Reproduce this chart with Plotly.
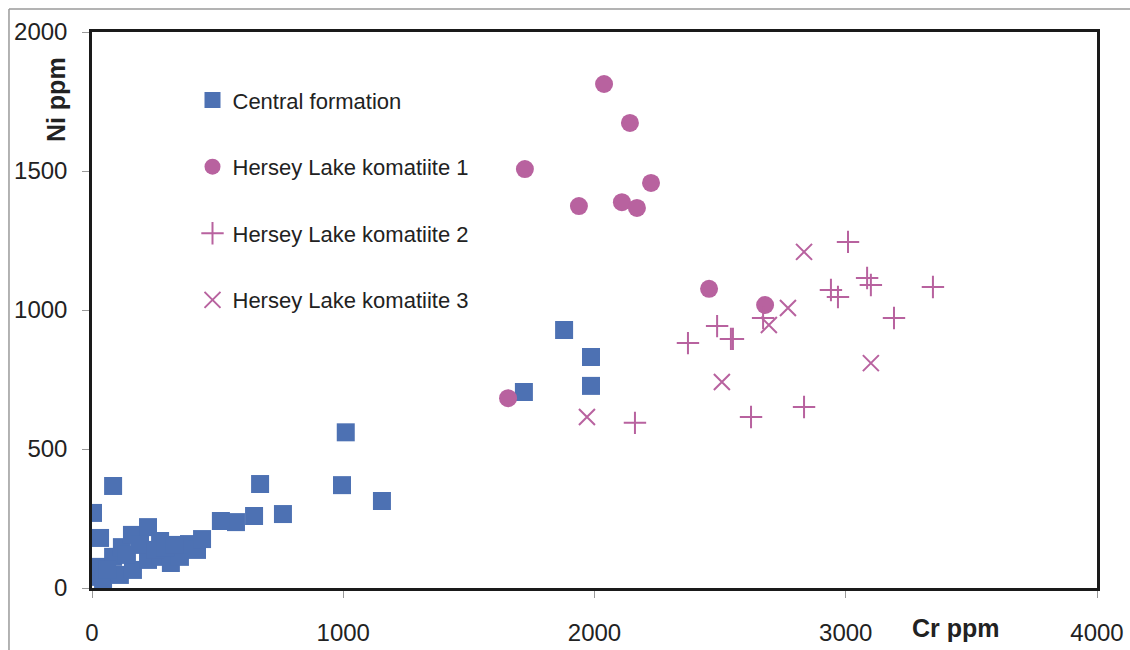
import plotly.graph_objects as go

# Central formation (squares)
central_cr = [4, 32, 84, 669, 760, 645, 573, 513, 1010, 995, 1154, 1879, 1986, 1986, 1719,
              8, 32, 44, 84, 111, 119, 159, 163, 223, 223, 271, 271, 314, 350, 386, 418, 438,
              60, 139, 191, 251, 291, 330]
central_ni = [270, 180, 367, 374, 266, 259, 237, 241, 560, 370, 313, 928, 831, 727, 705,
              40, 76, 29, 112, 47, 147, 191, 65, 219, 101, 169, 112, 90, 112, 158, 137, 176,
              65, 119, 155, 137, 144, 155]

# Hersey Lake komatiite 1 (circles)
hl1_cr = [2038, 2141, 1723, 1938, 2109, 2169, 2225, 2456, 2679, 1656]
hl1_ni = [1813, 1673, 1507, 1374, 1388, 1367, 1457, 1076, 1018, 683]

# Hersey Lake komatiite 2 (plus)
hl2_cr = [2161, 2372, 2488, 2543, 2551, 2623, 2671, 2834, 2941, 2969, 3009, 3085, 3100, 3192, 3347]
hl2_ni = [594, 881, 942, 896, 896, 615, 971, 651, 1072, 1047, 1245, 1115, 1090, 971, 1083]

# Hersey Lake komatiite 3 (x)
hl3_cr = [1970, 2507, 2694, 2770, 2834, 3100]
hl3_ni = [615, 741, 946, 1007, 1209, 809]

x_ticks = [0, 1000, 2000, 3000, 4000]
y_ticks = [0, 500, 1000, 1500, 2000]

BLUE = "#4d71b3"
PURPLE = "#b8629f"

fig = go.Figure()
fig.add_trace(go.Scatter(x=central_cr, y=central_ni, mode="markers", name="Central formation",
                         legendgroup="a",
                         marker=dict(symbol="square", size=18, color=BLUE, line=dict(width=0))))
fig.add_trace(go.Scatter(x=hl1_cr, y=hl1_ni, mode="markers", name="Hersey Lake komatiite 1",
                         legendgroup="b",
                         marker=dict(symbol="circle", size=18, color=PURPLE, line=dict(width=0))))
fig.add_trace(go.Scatter(x=hl2_cr, y=hl2_ni, mode="markers", name="Hersey Lake komatiite 2",
                         legendgroup="c",
                         marker=dict(symbol="cross-thin", size=16, color=PURPLE,
                                     line=dict(width=2, color=PURPLE))))
fig.add_trace(go.Scatter(x=hl3_cr, y=hl3_ni, mode="markers", name="Hersey Lake komatiite 3",
                         legendgroup="d",
                         marker=dict(symbol="x-thin", size=16, color=PURPLE,
                                     line=dict(width=2, color=PURPLE))))

fig.update_layout(
    width=1130, height=650,
    margin=dict(l=92, r=33, t=32, b=62),
    paper_bgcolor="white", plot_bgcolor="white",
    font=dict(family="Liberation Sans, Arial, sans-serif", color="#222222"),
    showlegend=True,
    legend=dict(x=0.1, y=0.915, xanchor="left", yanchor="top",
                font=dict(size=22, color="#222222"), itemsizing="trace",
                tracegroupgap=35, bgcolor="rgba(0,0,0,0)"),
    xaxis=dict(range=[0, 4000], tickvals=x_ticks, ticktext=[str(v) for v in x_ticks],
               showgrid=False, zeroline=False, showline=True, mirror=True, automargin=False,
               linecolor="#1a1a1a", linewidth=2.5, ticks="outside", ticklen=7,
               tickcolor="#999999", tickwidth=1, ticklabelstandoff=14,
               tickfont=dict(family="Liberation Sans, Arial", size=24, color="#222222")),
    yaxis=dict(range=[0, 2000], tickvals=y_ticks, ticktext=[str(v) for v in y_ticks],
               showgrid=False, zeroline=False, showline=True, mirror=True, automargin=False,
               linecolor="#1a1a1a", linewidth=2.5, ticks="outside", ticklen=7,
               tickcolor="#999999", tickwidth=1, ticklabelstandoff=10,
               tickfont=dict(family="Liberation Sans, Arial", size=24, color="#222222")),
    annotations=[
        dict(text="<b>Cr ppm</b>", xref="paper", yref="paper", x=0.86, y=-0.072,
             showarrow=False, font=dict(size=25, color="#222222"), xanchor="center", yanchor="middle"),
        dict(text="<b>Ni ppm</b>", xref="paper", yref="paper", x=-0.036, y=0.879, textangle=-90,
             showarrow=False, font=dict(size=25, color="#222222"), xanchor="center", yanchor="middle"),
    ],
    shapes=[
        dict(type="line", xref="paper", yref="paper", x0=-0.0826, x1=1.2, y0=1.0414, y1=1.0414,
             line=dict(color="#9a9a9a", width=1.5)),
        dict(type="line", xref="paper", yref="paper", x0=-0.0826, x1=-0.0826, y0=-0.3, y1=1.0414,
             line=dict(color="#9a9a9a", width=1.5)),
    ],
)

fig.write_html("out.html")
